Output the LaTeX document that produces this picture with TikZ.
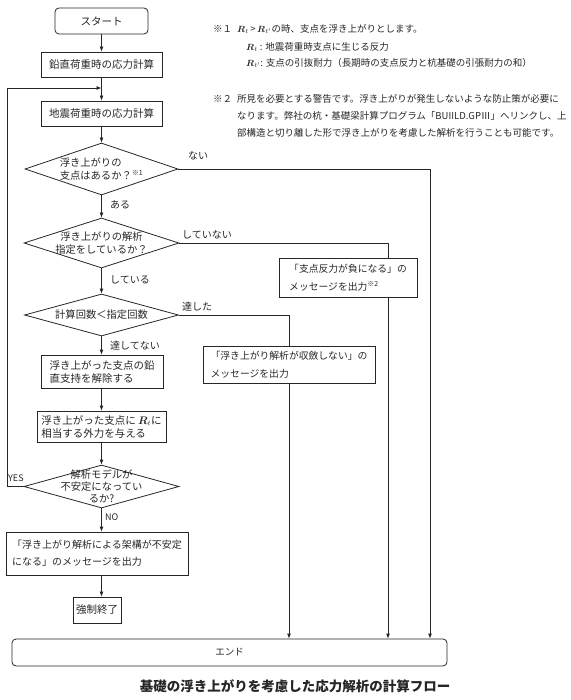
\documentclass[tikz,border=0pt]{standalone}
\usepackage{fontspec}
\setmainfont{Noto Sans CJK JP}
\usepackage{bm}
\usetikzlibrary{shapes.geometric,arrows.meta}
\begin{document}
\begin{tikzpicture}[x=1pt,y=-1pt,
  every node/.style={font=\fontsize{10.5}{13}\selectfont, text=black!85},
  line/.style={draw=black!85, line width=0.8pt},
  arr/.style={line, -{Latex[length=5pt,width=4pt]}},
  proc/.style={draw=black!85, line width=0.8pt, rectangle, inner sep=0pt},
  term/.style={proc, rounded corners=4pt},
  dia/.style={draw=black!85, line width=0.8pt, diamond, inner sep=0pt},
  dtext/.style={inner sep=0pt, font=\fontsize{10.3}{13}\selectfont},
  lbl/.style={inner sep=0pt, font=\fontsize{10}{12}\selectfont},
  note/.style={inner sep=0pt, anchor=west, font=\fontsize{9.5}{12}\selectfont},
  msg/.style={proc, align=left, font=\fontsize{9.8}{18}\selectfont}
]
\useasboundingbox (0,0) rectangle (570,700);

% main column
\node[term, minimum width=93pt, minimum height=26pt] (start) at (101.5,21) {スタート};
\node[proc, minimum width=121pt, minimum height=25pt] (b1) at (101.5,64.5) {鉛直荷重時の応力計算};
\node[proc, minimum width=121pt, minimum height=25pt] (b2) at (101.5,113.5) {地震荷重時の応力計算};
\node[dia, minimum width=153pt, minimum height=52pt] (d1) at (101.5,169) {};
\node[dtext, align=left] at (d1) {浮き上がりの\\支点はあるか？\textsuperscript{\scriptsize ※1}};
\node[dia, minimum width=155pt, minimum height=50pt] (d2) at (101.5,243) {};
\node[dtext, align=center, font=\fontsize{10.3}{12.5}\selectfont] at (d2) {浮き上がりの解析\\指定をしているか？};
\node[dia, minimum width=154pt, minimum height=42pt] (d3) at (101.5,315) {};
\node[dtext] at (d3) {計算回数＜指定回数};
\node[proc, minimum width=122pt, minimum height=33pt, align=left] (b3) at (102,371.5) {浮き上がった支点の鉛\\直支持を解除する};
\node[proc, minimum width=129pt, minimum height=31pt, align=left] (b4) at (101.5,426.5) {浮き上がった支点に $\bm{R}_t$に\\相当する外力を与える};
\node[dia, minimum width=155pt, minimum height=43pt] (d4) at (101.5,486.5) {};
\node[dtext, align=center, font=\fontsize{10.3}{12}\selectfont] at (d4) {解析モデルが\\不安定になってい\\るか?};
\node[msg, minimum width=182pt, minimum height=43pt, font=\fontsize{10}{17}\selectfont] (b5) at (97,553.5) {「浮き上がり解析による架構が不安定\\になる」のメッセージを出力};
\node[proc, minimum width=48pt, minimum height=26pt] (b6) at (97,610) {強制終了};
\node[term, minimum width=435pt, minimum height=27pt, font=\fontsize{9.5}{12}\selectfont] (end) at (229.5,652.5) {エンド};

% side message boxes
\node[msg, minimum width=138pt, minimum height=39pt] (m1) at (348,277.5) {「支点反力が負になる」の\\メッセージを出力\textsuperscript{\scriptsize ※2}};
\node[msg, minimum width=172pt, minimum height=37pt] (m2) at (289,364.5) {「浮き上がり解析が収斂しない」の\\メッセージを出力};

\coordinate (c1) at (430,169);
\coordinate (c2) at (388,243);
\coordinate (c3) at (289,315);
\coordinate (j) at (101.5,88);
\coordinate (lp) at (7,486.5);

% connectors
\draw[arr] (start) -- (b1);
\draw[arr] (b1) -- (b2);
\draw[arr] (b2) -- (d1);
\draw[arr] (d1) -- (d2);
\draw[arr] (d2) -- (d3);
\draw[arr] (d3) -- (b3.north -| d3.south);
\draw[arr] (b3.south -| d3.south) -- (b4.north -| d3.south);
\draw[arr] (b4.south -| d3.south) -- (d4);
\draw[arr] (d4) -- (b5.north -| d4.south);
\draw[arr] (b5.south -| d4.south) -- (b6.north -| d4.south);
\draw[arr] (d4.west) -- (lp) -- (lp |- j) -- (j);
\draw[arr] (d1.east) -- (c1) -- (c1 |- end.north);
\draw[line] (d2.east) -- (c2) -- (c2 |- m1.north);
\draw[arr] (c2 |- m1.south) -- (c2 |- end.north);
\draw[line] (d3.east) -- (c3) -- (c3 |- m2.north);
\draw[arr] (c3 |- m2.south) -- (c3 |- end.north);

% labels
\node[lbl, anchor=west] (l1) at (188,156) {ない};
\node[lbl, anchor=west] (l2) at (110,205) {ある};
\node[lbl, anchor=west] (l3) at (182,235) {していない};
\node[lbl, anchor=west] (l4) at (110,280) {している};
\node[lbl, anchor=west] (l5) at (182,307) {達した};
\node[lbl, anchor=west] (l6) at (110,346) {達してない};
\node[lbl, anchor=west, font=\fontsize{9}{11}\selectfont] (l7) at (8,478) {YES};
\node[lbl, anchor=west, font=\fontsize{9}{11}\selectfont] (l8) at (105,517) {NO};

% notes
\node[note] (n1) at (213,29) {※１};
\node[note] (n1a) at (237,29) {$\bm{R}_t$\,>\,$\bm{R}_{t'}$の時、支点を浮き上がりとします。};
\node[note] (n2) at (246,47) {$\bm{R}_t$ : 地震荷重時支点に生じる反力};
\node[note] (n3) at (246,63) {$\bm{R}_{t'}$: 支点の引抜耐力（長期時の支点反力と杭基礎の引張耐力の和）};
\node[note] (n4) at (213,99) {※２};
\node[note] (n4a) at (237,99) {所見を必要とする警告です。浮き上がりが発生しないような防止策が必要に};
\node[note] (n5) at (237,116) {なります。弊社の杭・基礎梁計算プログラム「BUIILD.GPⅢ」へリンクし、上};
\node[note] (n6) at (237,133) {部構造と切り離した形で浮き上がりを考慮した解析を行うことも可能です。};

% caption
\node[inner sep=0pt, font=\fontsize{13.5}{16}\selectfont\bfseries] (cap) at (295,686) {基礎の浮き上がりを考慮した応力解析の計算フロー};
\end{tikzpicture}
\end{document}
